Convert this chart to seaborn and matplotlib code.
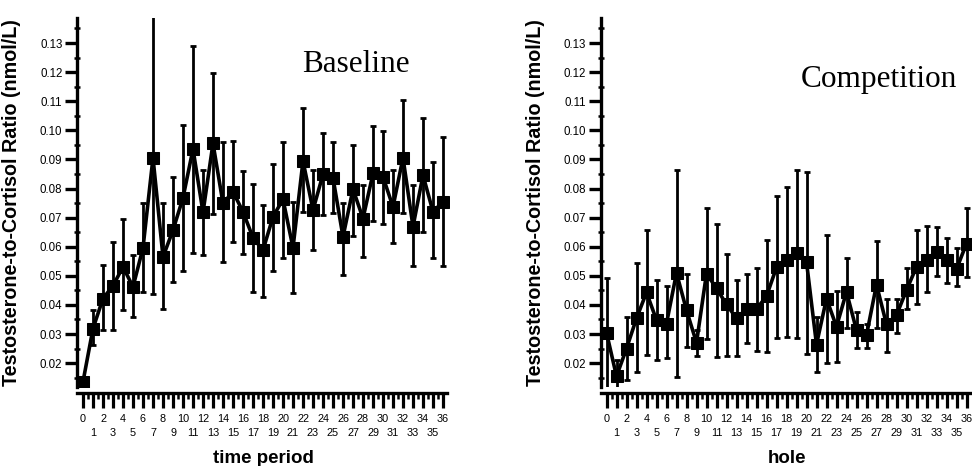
import numpy as np
import pandas as pd
import matplotlib
matplotlib.use("Agg")
import matplotlib.pyplot as plt
from matplotlib.ticker import NullLocator
import seaborn as sns

# ---------------------------------------------------------------
# data (x = 0..36, mean with lower / upper bar)
# ---------------------------------------------------------------
periods = list(range(37))

baseline_mean = [0.0136, 0.0319, 0.0422, 0.0466, 0.0531, 0.0462, 0.0596, 0.0906, 0.0565, 0.0657,
                 0.0768, 0.0936, 0.0718, 0.0955, 0.0749, 0.0789, 0.0720, 0.0631, 0.0588, 0.0703,
                 0.0763, 0.0596, 0.0895, 0.0726, 0.0849, 0.0837, 0.0634, 0.0798, 0.0697, 0.0852,
                 0.0840, 0.0737, 0.0906, 0.0669, 0.0846, 0.0720, 0.0755]
baseline_lo = [0.0125, 0.0262, 0.0313, 0.0313, 0.0382, 0.0359, 0.0445, 0.0436, 0.0386, 0.0479,
               0.0516, 0.0577, 0.0571, 0.0712, 0.0548, 0.0617, 0.0574, 0.0445, 0.0428, 0.0516,
               0.0560, 0.0440, 0.0718, 0.0588, 0.0709, 0.0715, 0.0502, 0.0637, 0.0565, 0.0688,
               0.0677, 0.0614, 0.0715, 0.0534, 0.0651, 0.0562, 0.0534]
baseline_hi = [0.0148, 0.0382, 0.0537, 0.0617, 0.0695, 0.0571, 0.0749, 0.1400, 0.0749, 0.0840,
               0.1020, 0.1290, 0.0863, 0.1198, 0.0959, 0.0963, 0.0861, 0.0814, 0.0743, 0.0886,
               0.0961, 0.0755, 0.1078, 0.0863, 0.0992, 0.0961, 0.0749, 0.0949, 0.0812, 0.1015,
               0.0999, 0.0863, 0.1104, 0.0812, 0.1041, 0.0892, 0.0976]

competition_mean = [0.0305, 0.0155, 0.0250, 0.0354, 0.0443, 0.0348, 0.0336, 0.0510, 0.0382, 0.0270,
                    0.0508, 0.0457, 0.0402, 0.0354, 0.0386, 0.0386, 0.0430, 0.0529, 0.0554, 0.0580,
                    0.0548, 0.0264, 0.0422, 0.0325, 0.0445, 0.0313, 0.0296, 0.0470, 0.0333, 0.0365,
                    0.0451, 0.0531, 0.0556, 0.0583, 0.0554, 0.0523, 0.0611]
competition_lo = [0.0110, 0.0110, 0.0142, 0.0168, 0.0227, 0.0210, 0.0216, 0.0153, 0.0254, 0.0225,
                  0.0282, 0.0222, 0.0225, 0.0225, 0.0268, 0.0241, 0.0239, 0.0285, 0.0290, 0.0287,
                  0.0233, 0.0170, 0.0199, 0.0204, 0.0321, 0.0253, 0.0251, 0.0321, 0.0237, 0.0302,
                  0.0386, 0.0402, 0.0443, 0.0500, 0.0474, 0.0466, 0.0497]
competition_hi = [0.0493, 0.0210, 0.0359, 0.0543, 0.0657, 0.0485, 0.0466, 0.0863, 0.0505, 0.0313,
                  0.0732, 0.0677, 0.0574, 0.0485, 0.0505, 0.0526, 0.0623, 0.0774, 0.0806, 0.0863,
                  0.0858, 0.0359, 0.0642, 0.0447, 0.0562, 0.0376, 0.0333, 0.0619, 0.0420, 0.0422,
                  0.0528, 0.0657, 0.0672, 0.0669, 0.0631, 0.0594, 0.0732]

y_ticks = [0.02, 0.03, 0.04, 0.05, 0.06, 0.07, 0.08, 0.09, 0.10, 0.11, 0.12, 0.13]
y_label = "Testosterone-to-Cortisol Ratio (nmol/L)"

sns.set_theme(style="ticks")
plt.rcParams["font.family"] = ["Liberation Sans", "DejaVu Sans"]

W, H = 972, 466
fig = plt.figure(figsize=(W / 100, H / 100), dpi=100)


def px_axes(left, bottom, right, top):
    return fig.add_axes([left / W, 1 - bottom / H, (right - left) / W, (bottom - top) / H])


def draw_panel(ax, mean, lo, hi, title, title_xy, xlabel):
    df = pd.DataFrame({"x": periods, "y": mean})
    sns.lineplot(data=df, x="x", y="y", ax=ax, color="black", lw=2.6,
                 marker="s", markersize=8, markeredgecolor="black", zorder=3)
    mean = np.array(mean)
    yerr = [mean - np.array(lo), np.array(hi) - mean]
    ax.errorbar(periods, mean, yerr=yerr, fmt="none", ecolor="black",
                elinewidth=2.0, capsize=2.2, capthick=2.0, zorder=2)

    ax.set_xlim(-0.6, 36.6)
    ax.set_ylim(0.0118, 0.1386)

    # y axis: dotted spine, thick outward majors, small minor marks
    ax.set_yticks(y_ticks)
    ax.set_yticklabels([f"{v:.2f}" for v in y_ticks])
    ax.set_yticks(np.arange(0.015, 0.136, 0.01), minor=True)
    ax.tick_params(axis="y", which="major", direction="out", length=8.5, width=2.4,
                   labelsize=8.3, pad=2, color="black", labelcolor="black")
    ax.tick_params(axis="y", which="minor", direction="inout", length=5, width=1.8,
                   color="black", left=True)

    # x axis: offset dotted spine, tick at every hole, short marks between;
    # even labels on the first row, odd labels on a second row below
    ax.set_xticks(periods)
    ax.set_xticklabels([str(i) if i % 2 == 0 else "" for i in periods])
    ax.set_xticks(np.arange(0.5, 36, 1.0), minor=True)
    ax.tick_params(axis="x", which="major", direction="out", length=10.5, width=2.3,
                   labelsize=7.8, pad=5, color="black", labelcolor="black")
    ax.tick_params(axis="x", which="minor", direction="out", length=4, width=1.8,
                   color="black", bottom=True)

    odd = [i for i in periods if i % 2 == 1]
    sec = ax.secondary_xaxis("bottom")
    sec.set_xticks(odd)
    sec.set_xticklabels([str(i) for i in odd])
    sec.xaxis.set_minor_locator(NullLocator())
    sec.tick_params(axis="x", length=0, labelsize=7.8, pad=29.5, labelcolor="black")
    sec.spines["bottom"].set_visible(False)

    sns.despine(ax=ax)
    for side in ("left", "bottom"):
        ax.spines[side].set_linestyle((0, (1, 1)))
        ax.spines[side].set_linewidth(2.4)
        ax.spines[side].set_color("black")
    ax.spines["bottom"].set_position(("outward", 4))

    ax.set_ylabel(y_label, fontsize=14.2, fontweight="bold", color="black")
    ax.yaxis.set_label_coords(-0.15, 0.5)
    ax.set_xlabel(xlabel, fontsize=13.5, fontweight="bold", color="black")
    ax.xaxis.set_label_coords(0.5, -0.172)

    ax.text(title_xy[0], title_xy[1], title, transform=ax.transAxes,
            family=["Liberation Serif", "DejaVu Serif"], fontsize=22.5,
            ha="center", va="center", color="black")
    ax.grid(False)


ax1 = px_axes(77, 387, 449, 18)
draw_panel(ax1, baseline_mean, baseline_lo, baseline_hi, "Baseline",
           ((356 - 77) / 372, (387 - 65) / 369), "time period")

ax2 = px_axes(600.5, 387, 972.5, 18)
draw_panel(ax2, competition_mean, competition_lo, competition_hi, "Competition",
           ((879 - 600.5) / 372, (387 - 80) / 369), "hole")

fig.savefig("out.png", dpi=100)
